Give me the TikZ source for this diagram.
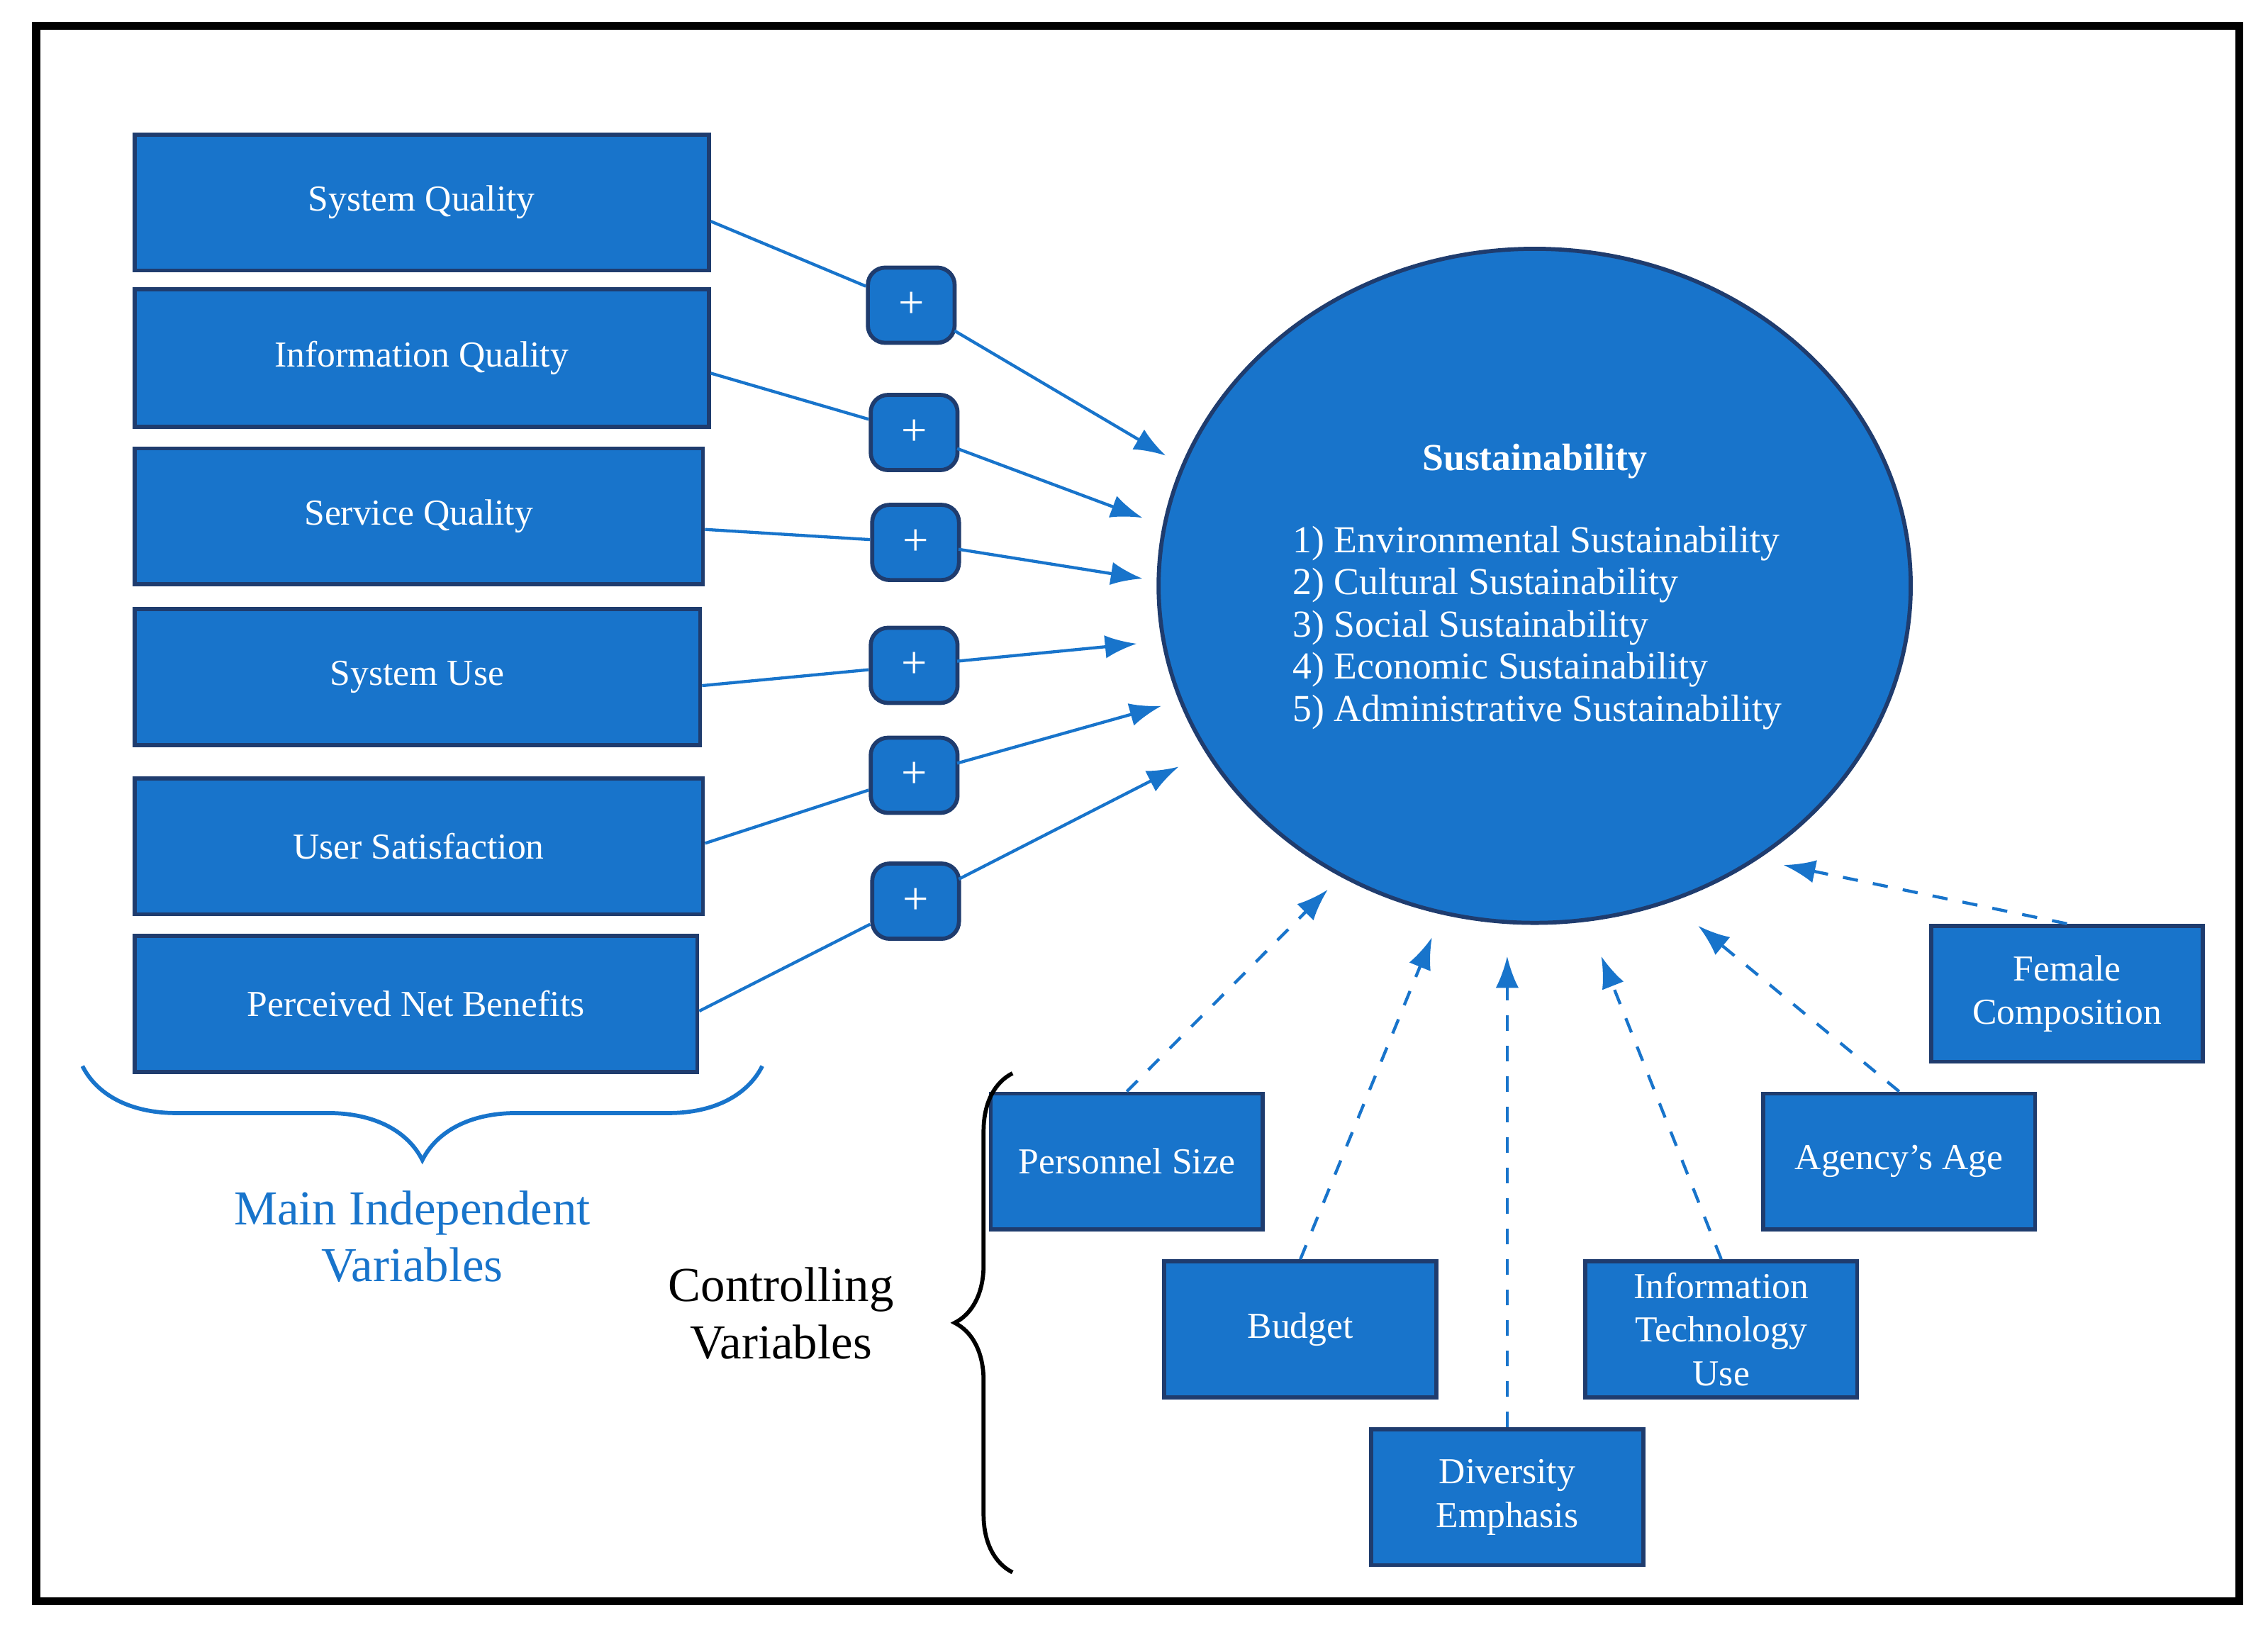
\documentclass[tikz,border=0pt]{standalone}
\usepackage{fontspec}
\setmainfont{Liberation Serif}
\usetikzlibrary{decorations.pathreplacing,arrows.meta,shapes.geometric}
\definecolor{boxblue}{HTML}{1874CB}
\definecolor{edgeblue}{HTML}{1F3C6E}
\begin{document}
\begin{tikzpicture}[x=1mm,y=-1mm,
                     var/.style={draw=edgeblue,fill=boxblue,text=white,thick,
                       font=\fontsize{7.2}{8.6}\selectfont,align=center,inner sep=0pt},
                     plus/.style={draw=edgeblue,fill=boxblue,text=white,thick,rounded corners=1.2mm,
                       minimum width=6mm,minimum height=5.2mm,font=\fontsize{9}{9}\selectfont},
                     link/.style={boxblue,semithick},
                     dlink/.style={boxblue,semithick,dashed,-{Latex[length=2.2mm,width=1.6mm]}},
                     >={Latex[length=2.2mm,width=1.6mm]}]
                     \useasboundingbox (0,0) rectangle (156.8,112.3);
                     \draw[line width=1.6pt] (2.5,1.8) rectangle (154.8,110.7);
                     % main independent variables
                     \foreach \n/\xa/\ya/\xb/\yb/\t in {sq/9.3/9.3/49/18.7/System Quality,
                       iq/9.3/20/49/29.5/Information Quality,
                       svq/9.3/31/48.6/40.4/Service Quality,
                       su/9.3/42.1/48.4/51.5/System Use,
                       us/9.3/53.8/48.6/63.2/User Satisfaction,
                       pnb/9.3/64.7/48.2/74.1/Perceived Net Benefits}{
                       \node[var,minimum width={(\xb-\xa)*1mm},minimum height={(\yb-\ya)*1mm}]
                         (\n) at ({(\xa+\xb)/2},{(\ya+\yb)/2}) {\t};
                     }
                     \foreach \n/\x/\y in {p1/63/21.1,p2/63.2/29.9,p3/63.3/37.5,p4/63.2/46,p5/63.2/53.6,p6/63.3/62.3}{
                       \node[plus] (\n) at (\x,\y) {+};
                     }
                     \node[ellipse,draw=edgeblue,fill=boxblue,thick,minimum width=52mm,minimum height=46.6mm]
                       (sus) at (106.1,40.5) {};
                     \node[text=white,font=\bfseries\fontsize{7.5}{9}\selectfont] (sust) at (106.1,31.9) {Sustainability};
                     \node[text=white,align=left,anchor=north west,inner sep=0pt,
                       font=\fontsize{7.5}{8.3}\selectfont] (list) at (89.3,36.3)
                       {1) Environmental Sustainability\\2) Cultural Sustainability\\3) Social Sustainability\\
                        4) Economic Sustainability\\5) Administrative Sustainability};
                     % connectors
                     \foreach \b/\p/\yb/\xe/\ye in {sq/p1/15.3/80.6/31.5,iq/p2/25.8/79/35.8,svq/p3/36.6/79/40,
                       su/p4/47.4/78.6/44.5,us/p5/58.3/80.3/48.8,pnb/p6/69.9/81.5/53}{
                       \coordinate (\b e) at (\xe,\ye);
                       \draw[link] (\b.east |- 0,\yb) -- (\p);
                       \draw[link,->,shorten <=-0.5pt] (\p) -- (\b e);
                     }
                     % controlling variables
                     \foreach \n/\xa/\ya/\t in {ps/68.5/75.6/Personnel Size,bu/80.5/87.2/Budget,
                       de/94.8/98.8/Diversity\\Emphasis,itu/109.6/87.2/Information\\Technology\\Use,
                       aa/121.9/75.6/Agency's Age,fc/133.5/64/Female\\Composition}{
                       \node[var,minimum width=18.8mm,minimum height=9.4mm] (\n) at (\xa+9.4,\ya+4.7) {\t};
                     }
                     \coordinate (pse) at (91.8,61.5);
                     \coordinate (bue) at (99,64.8);
                     \coordinate (dee) at (104.2,66.1);
                     \coordinate (itue) at (110.7,66.1);
                     \coordinate (aae) at (117.4,64);
                     \coordinate (fce) at (123.3,59.8);
                     \draw[dlink] (ps.north) -- (pse);
                     \draw[dlink] (bu.north) -- (bue);
                     \draw[dlink] (de.north) -- (dee);
                     \draw[dlink] (itu.north) -- (itue);
                     \draw[dlink] (aa.north) -- (aae);
                     \draw[dlink] (fc.north) -- (fce);
                     % braces
                     \draw[boxblue,thick,decorate,decoration={brace,mirror,amplitude=6.5mm,aspect=0.5}]
                       (5.7,73.7) -- coordinate[yshift=-7mm] (bl) (52.7,73.7);
                     \node[text=boxblue,align=center,font=\fontsize{9.6}{11.2}\selectfont] (miv) at (28.5,85.5)
                       {Main Independent\\Variables};
                     \draw[black,thick,decorate,decoration={brace,amplitude=4mm,aspect=0.5}]
                       (70,108.7) -- (70,74.2);
                     \node[align=center,font=\fontsize{9.6}{11.2}\selectfont] (cv) at (54,90.8)
                       {Controlling\\Variables};
                   \end{tikzpicture}
\end{document}
